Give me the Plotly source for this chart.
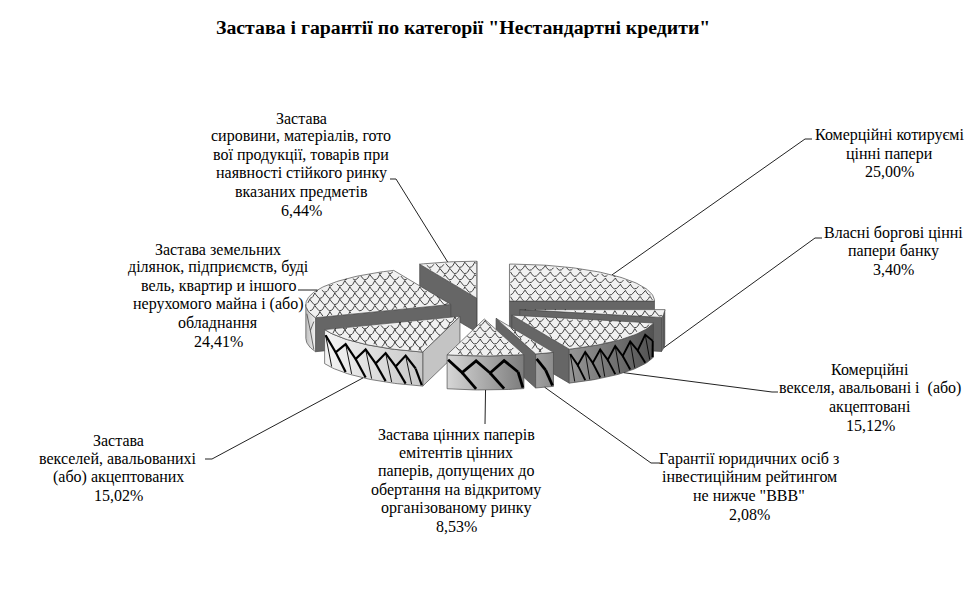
import math
import plotly.graph_objects as go

title = 'Застава і гарантії по категорії "Нестандартні кредити"'
categories = [
    ["Комерційні котируємі", "цінні папери"],
    ["Власні боргові цінні", "папери банку"],
    ["Комерційні", "векселя, авальовані і  (або)", "акцептовані"],
    ["Гарантії юридичних осіб з", "інвестиційним рейтингом", "не нижче \"BBB\""],
    ["Застава цінних паперів", "емітентів цінних", "паперів, допущених до",
     "обертання на відкритому", "організованому ринку"],
    ["Застава", "векселей, авальованихі", "(або) акцептованих"],
    ["Застава земельних", "ділянок, підприємств, буді", "вель, квартир и іншого",
     "нерухомого майна і (або)", "обладнання"],
    ["Застава", "сировини, матеріалів, гото", "вої продукції, товарів при",
     "наявності стійкого ринку", "вказаних предметів"],
]
values = [25.00, 3.40, 15.12, 2.08, 8.53, 15.02, 24.41, 6.44]

# Geometry of the exploded pie, in page pixels (axes run 0..969 and 592..0)
CX, CY, RX, RY, DEPTH = 484, 308.5, 145, 37, 34
EX, EY = 36, 10.5
LINE_H = 18.4

# Label block centre and the elbow of each leader line: (x, y, elbow end, elbow start)
label_layout = [
    (889, 153.5, (812, 139), (805, 139)),
    (893, 251, (822, 238), (815, 238)),
    (870, 397.5, (778, 392), (772, 392)),
    (749, 486.5, (660, 463), (651, 463)),
    (456, 480.5, None, (485, 424)),
    (118, 468, (205, 459), (212, 459)),
    (218, 295, (298, 290), (305, 290)),
    (301, 164, (390, 179), (396, 179)),
]
# Side-face shading left -> right, cut-face colour, zigzag period, stroke width, thin-line flag
side_style = [
    ("#777777", "#555555", "#666666", 16, 2.2, False),
    ("#777777", "#444444", "#666666", 6, 0.7, False),
    ("#969696", "#525252", "#666666", 15, 1.9, True),
    ("#a0a0a0", "#8c8c8c", "#666666", 18, 2.8, False),
    ("#d6d6d6", "#7c7c7c", "#666666", 28, 2.8, False),
    ("#f4f4f4", "#c8c8c8", "#c4c4c4", 20, 2.2, True),
    ("#c0c0c0", "#f0f0f0", "#666666", 7, 0.7, False),
    ("#888888", "#888888", "#666666", 16, 2.2, False),
]
draw_order = [0, 7, 6, 1, 2, 5, 3, 4]
TOP_BG = "#f1f1f1"
SCALE_P, SCALE_ROW = 10, 6.2
EDGE = "#4a4a4a"

total = sum(values)
angles, a = [], 0.0
for v in values:
    angles.append((a, a + v / total * 360))
    a += v / total * 360


def pt(c, deg, z=0):
    r = math.radians(deg)
    return c[0] + RX * math.sin(r), c[1] - RY * math.cos(r) + z


def arc(c, a0, a1, z=0, step=1.5):
    n = max(2, int(abs(a1 - a0) / step) + 1)
    return [pt(c, a0 + (a1 - a0) * i / (n - 1), z) for i in range(n)]


def poly(points, **kw):
    xs = [p[0] for p in points] + [points[0][0]]
    ys = [p[1] for p in points] + [points[0][1]]
    return go.Scatter(x=xs, y=ys, mode="lines", fill="toself", hoverinfo="skip",
                      showlegend=False, line=dict(color=EDGE, width=0.7), **kw)


def stroke(points, color="black", width=1.0):
    return go.Scatter(x=[p[0] if p else None for p in points],
                      y=[p[1] if p else None for p in points],
                      mode="lines", hoverinfo="skip", showlegend=False,
                      line=dict(color=color, width=width))


def cut_face(c, deg, color):
    e = pt(c, deg)
    return poly([c, e, (e[0], e[1] + DEPTH), (c[0], c[1] + DEPTH)], fillcolor=color)


def inside(c, a0, a1, x, y):
    u, v = (x - c[0]) / RX, (y - c[1]) / RY
    if u * u + v * v > 0.985:
        return False
    d = math.degrees(math.atan2(u, -v)) % 360
    return a0 + 0.3 < d < a1 - 0.3


def scale_marks(c, a0, a1):
    """Fish-scale texture of the pie's top faces, kept inside the sector."""
    out = []
    r = 0
    y_base = c[1] - RY - SCALE_ROW
    while y_base + r * SCALE_ROW < c[1] + RY + SCALE_ROW:
        off = (r % 2) * SCALE_P / 2
        prev = False
        x = c[0] - RX
        while x < c[0] + RX:
            ph = math.pi * (x - off) / SCALE_P
            y = y_base + r * SCALE_ROW + SCALE_ROW * abs(math.sin(ph)) ** 0.7
            ok = inside(c, a0, a1, x, y)
            if ok:
                out.append((x, y))
            elif prev:
                out.append(None)
            prev = ok
            x += 1.0
        if prev:
            out.append(None)
        r += 1
    return out


def side_marks(c, lo, hi, period):
    """Zigzag texture that runs along a curved side face."""
    x0, x1 = sorted((pt(c, lo)[0], pt(c, hi)[0]))

    def top_y(x):
        s = max(-1, min(1, (x - c[0]) / RX))
        return c[1] + RY * math.sqrt(1 - s * s)

    zig, drops, thin = [], [], []
    k, x = 0, x0 + 1
    while x < x1:
        dz = 17 if k % 2 else 5
        y = top_y(x) + dz
        zig.append((x, y))
        if k % 2:
            xb = min(x + period * 0.5, x1 - 1)
            drops += [(x, y), (xb, top_y(xb) + DEPTH - 1), None]
        else:
            xb = min(x + period * 0.3, x1 - 1)
            thin += [(x, y), (xb, top_y(xb) + DEPTH - 1), None]
        x += period / 2
        k += 1
    return zig, drops, thin


fig = go.Figure()
for i in draw_order:
    a0, a1 = angles[i]
    mid = math.radians((a0 + a1) / 2)
    c = (CX + EX * math.sin(mid), CY - EY * math.cos(mid))
    left_col, right_col, cut_col, period, w, has_thin = side_style[i]

    for deg, visible in ((a0, math.sin(math.radians(a0)) < 0), (a1, math.sin(math.radians(a1)) > 0)):
        if visible:
            fig.add_trace(cut_face(c, deg, cut_col))

    lo, hi = max(a0, 90), min(a1, 270)
    if lo < hi:
        side = arc(c, lo, hi) + arc(c, hi, lo, DEPTH)
        fig.add_trace(poly(side, fillgradient=dict(
            type="horizontal", colorscale=[[0, left_col], [1, right_col]])))
        zig, drops, thin = side_marks(c, lo, hi, period)
        col = "black" if period >= 15 else "#333333"
        if has_thin:
            fig.add_trace(stroke(thin, width=0.9))
        fig.add_trace(stroke(drops, width=w, color=col))
        fig.add_trace(stroke(zig, width=w, color=col))

    fig.add_trace(poly([c] + arc(c, a0, a1), fillcolor=TOP_BG))
    fig.add_trace(stroke(scale_marks(c, a0, a1), color="#151515", width=0.8))

annotations = []
for i, (lines, v, lay) in enumerate(zip(categories, values, label_layout)):
    a0, a1 = angles[i]
    midd = (a0 + a1) / 2
    mid = math.radians(midd)
    c = (CX + EX * math.sin(mid), CY - EY * math.cos(mid))
    front = 90 < midd < 270
    start = pt(c, midd, DEPTH if front else 0)
    x, y, near, far = lay
    line = [start, far] + ([near] if near else [])
    fig.add_trace(stroke(line, color="#222222", width=1))
    rows = lines + [f"{v:.2f}%".replace(".", ",")]
    for k, row in enumerate(rows):
        annotations.append(dict(
            x=x, y=y + (k - (len(rows) - 1) / 2) * LINE_H, xref="x", yref="y",
            showarrow=False, align="center", text=row.replace("  ", "\u00a0 "),
            font=dict(family="Liberation Serif", size=16, color="black"),
        ))
annotations.append(dict(
    x=463, y=27, xref="x", yref="y", showarrow=False, text=f"<b>{title}</b>",
    font=dict(family="Liberation Serif", size=19.8, color="black"),
))

fig.update_layout(
    width=969, height=592, autosize=False,
    margin=dict(l=0, r=0, t=0, b=0),
    paper_bgcolor="white", plot_bgcolor="white",
    showlegend=False, annotations=annotations,
    xaxis=dict(range=[0, 969], visible=False, fixedrange=True),
    yaxis=dict(range=[592, 0], visible=False, fixedrange=True),
)
fig.write_html("out.html", post_script="document.body.style.margin='0';",
               config={"displayModeBar": False})
